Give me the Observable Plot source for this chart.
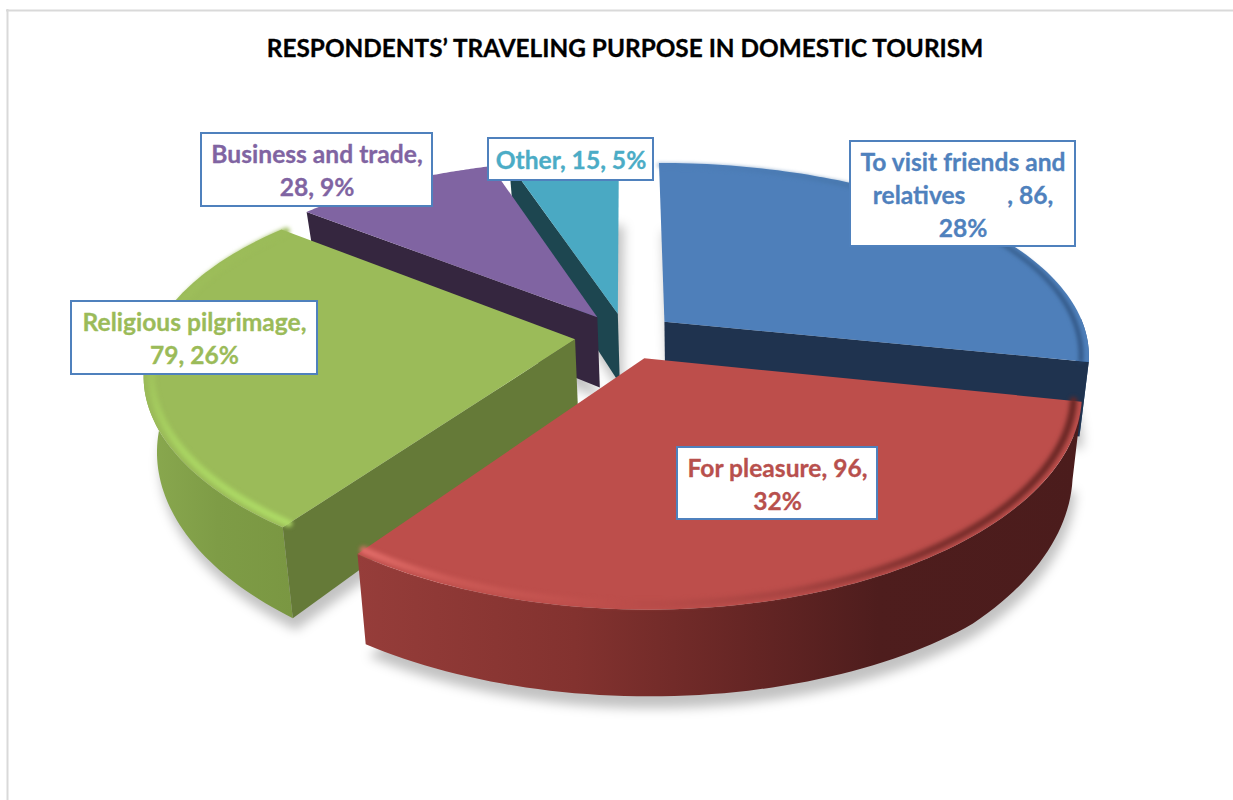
<!DOCTYPE html>
<html><head><meta charset="utf-8">
<script src="https://cdn.jsdelivr.net/npm/d3@7"></script>
<script src="https://cdn.jsdelivr.net/npm/@observablehq/plot@0.6"></script>
<style>
html,body{margin:0;padding:0;background:#fff}
#chart{position:relative;width:1233px;height:800px;overflow:hidden}
#chart svg{display:block;background:transparent}
.shadow{filter:blur(5.5px)}
.rim{filter:blur(2px)}
</style></head><body><div id="chart"></div>
<script>
// Data
const titleText = "RESPONDENTS’ TRAVELING PURPOSE IN DOMESTIC TOURISM";
const categories = ["To visit friends and relatives", "For pleasure", "Religious pilgrimage", "Business and trade", "Other"];
const values = [86, 96, 79, 28, 15];
const labelTexts = [
  "To visit friends and\nrelatives\u00a0\u00a0\u00a0\u00a0\u00a0\u00a0\u00a0, 86,\n28%",
  "For pleasure, 96,\n32%",
  "Religious pilgrimage,\n79, 26%",
  "Business and trade,\n28, 9%",
  "Other, 15, 5%"
];
// Styles
const topColors = ["#4e7fba", "#bd4e4b", "#9bbb59", "#8064a2", "#4aa9c3"];
const cutColors = ["#1f334f", "#3a1716", "#657a38", "#35263f", "#1d4650"];
const sideFills = ["url(#sideBlue)", "url(#sideRed)", "url(#sideGreen)", "#4a3a60", "#2a6f80"];
const rimStrokes = ["url(#rimBlue)", "url(#rimRed)", "url(#rimGreen)", null, null];
const labelColor = ["#4f81bd", "#b8504d", "#9bbb59", "#8064a2", "#4bacc6"];
// Label boxes [left, right, top, bottom]
const labelBoxes = [[850,1075,141,246],[677,877,447,519],[71,317,301,374],[201,432,133,206],[488,653,138,180]];
// Projection of the tilted disc
const P = {cx:625, cy:335.7, a:423, b:194, kx:0.164, ky:0.19, explode:0.12, depth:72, kd:0.25, vx:700, shrink:0.024};
function thickness(v){
  return v <= 0.85 ? P.depth / (1 - P.kd * v) : P.depth / (1 - P.kd * 0.85) - (v - 0.85) * 18;
}
function project(u, v, lower){
  const wx = 1 - P.kx * v, wy = 1 - P.ky * v;
  let x = P.cx + P.a * u / wx, y = P.cy + P.b * v / wy;
  if (lower){ x = x + (P.vx - x) * P.shrink; y += thickness(v); }
  return {x, y};
}
const total = d3.sum(values);
const slices = [];
let acc = 0;
values.forEach((val, i) => {
  const t0 = acc / total * 2 * Math.PI; acc += val;
  const t1 = acc / total * 2 * Math.PI;
  const m = (t0 + t1) / 2;
  const ex = P.explode * Math.sin(m), ey = -P.explode * Math.cos(m);
  const at = (r, t, lower) => project(ex + r * Math.sin(t), ey - r * Math.cos(t), lower);
  const ts = d3.range(0, 81).map(j => t0 + (t1 - t0) * j / 80);
  slices.push({i, t0, t1, at, ts});
});
const area = pts => d3.polygonArea(pts.map(p => [p.x, p.y]));
const apply = {x:"x", y:"y", curve:"linear"};
const poly = (pts, fill, extra={}) => Plot.line(pts, {...apply, fill, stroke:"none", ...extra});

function sliceMarks(s){
  const {i, t0, t1, at, ts} = s, out = [];
  // outer side, only the part turned to the viewer
  const vis = ts.filter(t => -Math.cos(t) > -0.02);
  if (vis.length > 1){
    const side = [...vis.map(t => at(1, t, false)), ...vis.slice().reverse().map(t => at(1, t, true))];
    out.push(poly(side, sideFills[i]));
  }
  // cut faces: a face pointing straight back or sideways (sin of its angle near zero) stays hidden
  [[t0, 1],[t1, -1]].forEach(([t, sgn]) => {
    const q = [at(0,t,false), at(1,t,false), at(1,t,true), at(0,t,true)];
    if (area(q) * sgn > 0 && Math.abs(Math.sin(t)) > 0.01) out.push(poly(q, cutColors[i]));
  });
  // top surface
  out.push(poly([at(0,t0,false), ...ts.map(t => at(1,t,false))], topColors[i]));
  if (rimStrokes[i]){
    const rim = ts.map(t => at(0.982, t, false));
    out.push(Plot.line(rim, {...apply, stroke:rimStrokes[i], strokeWidth:i === 0 ? 3 : 7, className:"rim"}));
  }
  return out;
}
const shadows = slices.map(s => {
  const pts = [s.at(0, s.t0, true), ...s.ts.map(t => s.at(1, t, true))].map(p => ({x:p.x + 3, y:p.y + 12}));
  return poly(pts, "#000", {fillOpacity:0.24, className:"shadow"});
});
const order = [4, 3, 0, 2, 1];
const pieMarks = order.flatMap(i => sliceMarks(slices[i]));

const boxData = labelBoxes.map((b, i) => ({x1:b[0], x2:b[1], y1:b[2], y2:b[3], i}));
const plot = Plot.plot({
  width:1233, height:800, margin:0,
  x:{domain:[0,1233], range:[0,1233], axis:null},
  y:{domain:[0,800], range:[0,800], axis:null},
  marks:[
    Plot.ruleX([7], {y1:9, y2:800, stroke:"#d9d9d9", strokeWidth:2}),
    Plot.ruleY([10], {x1:6, x2:1233, stroke:"#d9d9d9", strokeWidth:2}),
    Plot.text([titleText], {x:624.5, y:49, text:d=>d, fontFamily:"Lato", fontWeight:700, fontSize:24.35, fill:"#000", stroke:"#000", strokeWidth:0.3}),
    ...shadows,
    ...pieMarks,
    Plot.rect(boxData, {x1:"x1", x2:"x2", y1:"y1", y2:"y2", fill:"#fff", stroke:"#4f81bd", strokeWidth:2}),
    Plot.text(boxData, {x:d=>(d.x1+d.x2)/2, y:d=>(d.y1+d.y2)/2 - 1, text:d=>labelTexts[d.i], fill:d=>labelColor[d.i],
      stroke:d=>labelColor[d.i], strokeWidth:0.3, fontFamily:"Lato", fontWeight:700, fontSize:24.6, lineHeight:1.34, textAnchor:"middle"})
  ]
});
const svg = d3.select(plot);
const defs = svg.insert("defs", ":first-child");
function grad(id, stops, vertical){
  const g = defs.append("linearGradient").attr("id", id)
    .attr("x1",0).attr("y1",0).attr("x2",vertical?0:1).attr("y2",vertical?1:0);
  stops.forEach(([o,c]) => g.append("stop").attr("offset",o).attr("stop-color",c));
}
grad("sideRed", [[0,"#963d3a"],[0.3,"#83322f"],[0.55,"#642524"],[0.72,"#4e1d1d"],[1,"#4b1c1c"]]);
grad("sideGreen", [[0,"#8aa94f"],[0.5,"#7e9c46"],[1,"#7a9742"]]);
grad("sideBlue", [[0,"#2f5a8c"],[1,"#2f5a8c"]]);
grad("rimRed", [[0,"#e26d69"],[0.12,"#cc5a56"],[0.35,"#bd4e4b"],[0.6,"#a84442"],[0.8,"#7c2f2d"],[1,"#6a2725"]]);
grad("rimGreen", [[0,"#9bbb59"],[0.45,"#9fc15b"],[0.75,"#a9d462"],[1,"#aedb66"]], true);
grad("rimBlue", [[0,"#4e7fba"],[0.6,"#41709f"],[1,"#24436b"]]);
document.getElementById("chart").append(plot);
</script></body></html>
